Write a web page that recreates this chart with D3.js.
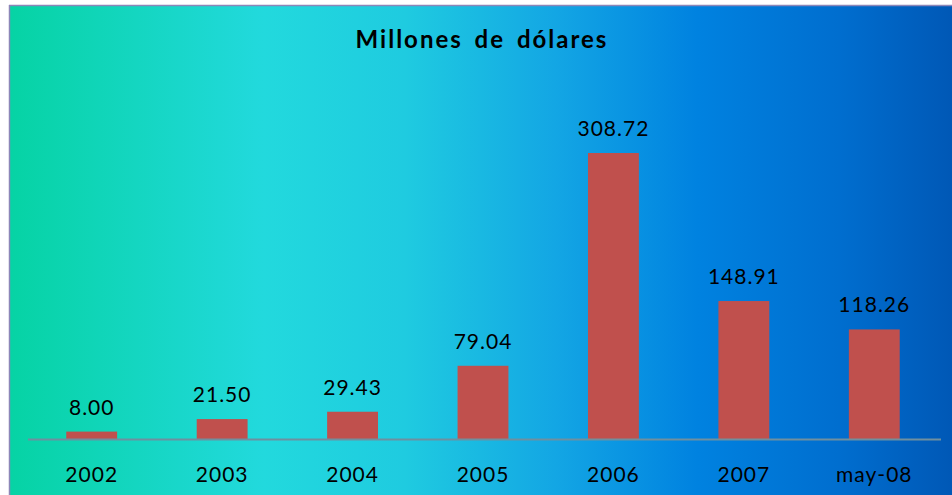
<!DOCTYPE html>
<html lang="es">
<head>
<meta charset="UTF-8">
<title>Millones de dólares</title>
<script src="https://d3js.org/d3.v7.min.js"></script>
<style>
  body { margin: 0; background: #fff; }
  text { font-family: Lato, 'Open Sans', sans-serif; fill: #000; }
  .val, .tick text { font-size: 21px; letter-spacing: 1px; }
</style>
</head>
<body>
<script>
  const width = 952, height = 495;

  const categories = ["2002", "2003", "2004", "2005", "2006", "2007", "may-08"];
  const values = [8.00, 21.50, 29.43, 79.04, 308.72, 148.91, 118.26];
  const title = "Millones de dólares";

  const svg = d3.select("body").append("svg")
      .attr("width", width)
      .attr("height", height);

  const defs = svg.append("defs");
  const grad = defs.append("linearGradient")
      .attr("id", "bg")
      .attr("x1", "0%").attr("x2", "100%")
      .attr("y1", "0%").attr("y2", "0%");
  [["0%", "#06D3A4"], ["27%", "#22D9DD"], ["42%", "#1FCBE0"],
   ["58%", "#13A6E4"], ["73%", "#0082E0"], ["88%", "#006ECF"], ["100%", "#0058B6"]]
    .forEach(s => grad.append("stop").attr("offset", s[0]).attr("stop-color", s[1]));

  // chart area with frame
  svg.append("rect")
      .attr("x", 9).attr("y", 5)
      .attr("width", width - 9).attr("height", height - 5)
      .attr("fill", "url(#bg)");
  svg.append("line")
      .attr("x1", 9).attr("x2", width).attr("y1", 5.5).attr("y2", 5.5)
      .attr("stroke", "#8d86b8").attr("stroke-width", 1.5);
  svg.append("line")
      .attr("x1", 9.5).attr("x2", 9.5).attr("y1", 5).attr("y2", height)
      .attr("stroke", "#8d86b8").attr("stroke-width", 1.5);

  const x = d3.scaleBand()
      .domain(categories)
      .range([26.5, 939.5])
      .paddingInner(0.61)
      .paddingOuter(0.305);

  const y = d3.scaleLinear()
      .domain([0, 308.72])
      .range([439, 153]);

  svg.append("text")
      .attr("x", 482)
      .attr("y", 48)
      .attr("text-anchor", "middle")
      .style("font-size", "24px")
      .style("font-weight", "bold")
      .style("letter-spacing", "2px")
      .style("word-spacing", "4px")
      .text(title);

  svg.selectAll("rect.bar")
      .data(values)
      .enter().append("rect")
      .attr("class", "bar")
      .attr("x", (d, i) => x(categories[i]))
      .attr("y", d => y(d))
      .attr("width", x.bandwidth())
      .attr("height", d => y(0) - y(d))
      .attr("fill", "#C0504D");

  svg.selectAll("text.val")
      .data(values)
      .enter().append("text")
      .attr("class", "val")
      .attr("x", (d, i) => x(categories[i]) + x.bandwidth() / 2)
      .attr("y", d => y(d) - 17)
      .attr("text-anchor", "middle")
      .text(d => d.toFixed(2));

  const xAxis = d3.axisBottom(x).tickSize(0).tickPadding(28);
  const gx = svg.append("g")
      .attr("transform", "translate(0," + y(0) + ")")
      .call(xAxis);
  gx.select(".domain")
      .attr("d", "M28,0.5H941")
      .attr("stroke", "#6f8f9f")
      .attr("stroke-width", 2);
  gx.selectAll(".tick text").attr("fill", "#000");
</script>
</body>
</html>
